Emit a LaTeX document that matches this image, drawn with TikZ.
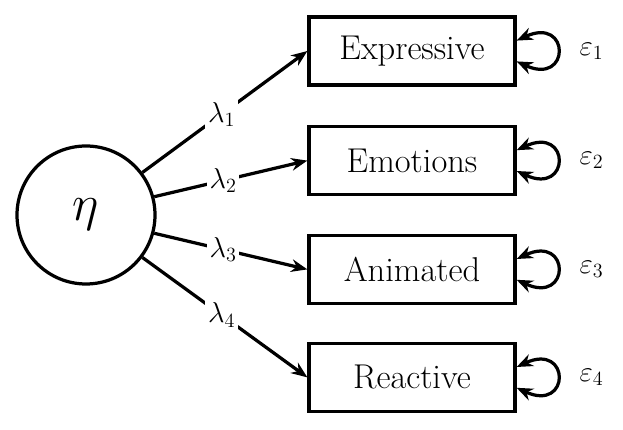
\RequirePackage{fix-cm}
\documentclass[tikz,border=0pt]{standalone}
\usepackage{amsmath,amssymb}
\usepackage{tikz}
\usetikzlibrary{arrows.meta, positioning}

\tikzset{
  latent/.style={draw, circle, line width=2.3pt, minimum size=3.45cm, inner sep=0pt,
    font=\fontsize{36}{42}\selectfont},
  manifest/.style={draw, rectangle, line width=2.3pt, minimum width=5.15cm, minimum height=1.7cm,
    font=\fontsize{24.5}{29}\selectfont},
  loading/.style={->, line width=2.3pt},
  errloop/.style={<->, line width=2.3pt},
  lab/.style={fill=white, inner sep=2pt, font=\fontsize{20.5}{24}\selectfont},
  errlab/.style={font=\fontsize{20.5}{24}\selectfont},
}

\begin{document}
\begin{tikzpicture}[>={Stealth[length=11.5pt, width=9pt]}]
  \useasboundingbox (-2.15,-5.375) rectangle (13.425,5.375);
  % 潜变量
  \node[latent] (eta) at (0,0) {$\eta$};
  % 四个指标
  \node[manifest] (expr)  at (8.15,4.1)   {Expressive};
  \node[manifest] (emot)  at (8.15,1.36)  {Emotions};
  \node[manifest] (anim)  at (8.15,-1.36) {Animated};
  \node[manifest] (react) at (8.15,-4.06) {Reactive};
  % 载荷
  \draw[loading] (eta.37)  -- node[lab, pos=0.48] {$\lambda_1$} (expr.west);
  \draw[loading] (eta.15)  -- node[lab, pos=0.45] {$\lambda_2$} (emot.west);
  \draw[loading] (eta.-15) -- node[lab, pos=0.45] {$\lambda_3$} (anim.west);
  \draw[loading] (eta.-37) -- node[lab, pos=0.48] {$\lambda_4$} (react.west);
  % 误差项
  \draw[errloop] ([yshift=0.26cm]expr.east) .. controls +(1.35,0.62) and +(1.35,-0.62) .. ([yshift=-0.26cm]expr.east);
  \draw[errloop] ([yshift=0.26cm]emot.east) .. controls +(1.35,0.62) and +(1.35,-0.62) .. ([yshift=-0.26cm]emot.east);
  \draw[errloop] ([yshift=0.26cm]anim.east) .. controls +(1.35,0.62) and +(1.35,-0.62) .. ([yshift=-0.26cm]anim.east);
  \draw[errloop] ([yshift=0.26cm]react.east) .. controls +(1.35,0.62) and +(1.35,-0.62) .. ([yshift=-0.26cm]react.east);
  \node[errlab, right=1.45cm of expr.east]  (e1) {$\varepsilon_1$};
  \node[errlab, right=1.45cm of emot.east]  (e2) {$\varepsilon_2$};
  \node[errlab, right=1.45cm of anim.east]  (e3) {$\varepsilon_3$};
  \node[errlab, right=1.45cm of react.east] (e4) {$\varepsilon_4$};
\end{tikzpicture}
\end{document}
